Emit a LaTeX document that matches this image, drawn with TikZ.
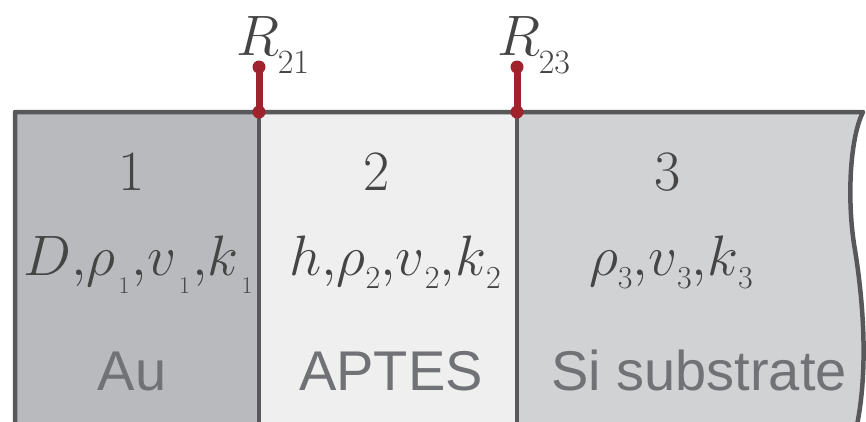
\RequirePackage{fix-cm}
\documentclass[tikz,border=0pt]{standalone}
\usepackage{fontspec}
\setsansfont{Liberation Sans}
\usetikzlibrary{positioning}
\definecolor{Ink}{HTML}{454545}
\definecolor{Label}{HTML}{717275}
\definecolor{Edge}{HTML}{58585A}
\definecolor{Gold}{HTML}{B9BABD}
\definecolor{Silane}{HTML}{EFEFEF}
\definecolor{Silicon}{HTML}{D1D2D4}
\definecolor{Pin}{HTML}{A0222C}
\newcommand{\sz}[2]{\mbox{\fontsize{#1}{#1}\selectfont #2}}
\newcommand{\lsub}[3][13pt]{\raisebox{-#1}{\sz{#2}{#3}}}
\tikzset{
  numtext/.style={inner sep=0pt,anchor=base,text=Ink,font=\fontsize{57}{60}\selectfont},
  proptext/.style={inner sep=0pt,anchor=base,text=Ink,font=\fontsize{57}{60}\selectfont},
  nametext/.style={inner sep=0pt,anchor=base,text=Label,font=\sffamily\fontsize{56}{60}\selectfont},
  edge/.style={draw=Edge,line width=4.5pt,line join=round},
  pinline/.style={draw=Pin,line width=7pt},
  pindot/.style={fill=Pin}
}

\begin{document}
\begin{tikzpicture}[x=1pt,y=-1pt]
  \useasboundingbox (0,0) rectangle (866,421);
  % layers
  \fill[Gold] (15,112) rectangle (259,430);
  \fill[Silane] (259,112) rectangle (517,430);
  \fill[Silicon] (517,112) -- (863,112) .. controls (849,140) and (847,205) .. (855,250)
    .. controls (863,300) and (869,370) .. (856,430) -- (517,430) -- cycle;
  \draw[edge] (15,430) -- (15,112) -- (863,112) .. controls (849,140) and (847,205) .. (855,250)
    .. controls (863,300) and (869,370) .. (856,430);
  \draw[edge] (259,112) -- (259,430);
  \draw[edge] (517,112) -- (517,430);
  % interface resistances
  \coordinate (t21) at (259,67);
  \coordinate (b21) at (259,112);
  \coordinate (t23) at (517,67);
  \coordinate (b23) at (517,112);
  \draw[pinline] (t21) -- (b21);
  \draw[pinline] (t23) -- (b23);
  \foreach \p in {t21,b21,t23,b23}
    \fill[pindot] (\p) circle (6.5pt);
  \node[numtext] (r21) at (273,55) {$R\kern-2pt\lsub[18pt]{34}{21}$};
  \node[numtext] (r23) at (534,55) {$R\kern-2pt\lsub[18pt]{34}{23}$};
  % layer numbers
  \node[numtext] (n1) at (132,190) {1};
  \node[numtext] (n2) at (377,190) {2};
  \node[numtext] (n3) at (668,190) {3};
  % properties
  \node[proptext] (p1) at (138,275)
    {$D{,}\rho\kern3pt\lsub[18pt]{24}{1}\kern2pt{,}v\kern3pt\lsub[18pt]{24}{1}\kern2pt{,}k\kern3pt\lsub[18pt]{24}{1}$};
  \node[proptext] (p2) at (395,275)
    {$h{,}\rho\lsub{32}{2}{,}v\lsub{32}{2}{,}k\lsub{32}{2}$};
  \node[proptext] (p3) at (671,275)
    {$\rho\lsub{32}{3}{,}v\lsub{32}{3}{,}k\lsub{32}{3}$};
  % materials
  \node[nametext] (m1) at (132,390) {Au};
  \node[nametext] (m2) at (391,390) {APTES};
  \node[nametext] (m3) at (699,390) {Si substrate};
\end{tikzpicture}
\end{document}
